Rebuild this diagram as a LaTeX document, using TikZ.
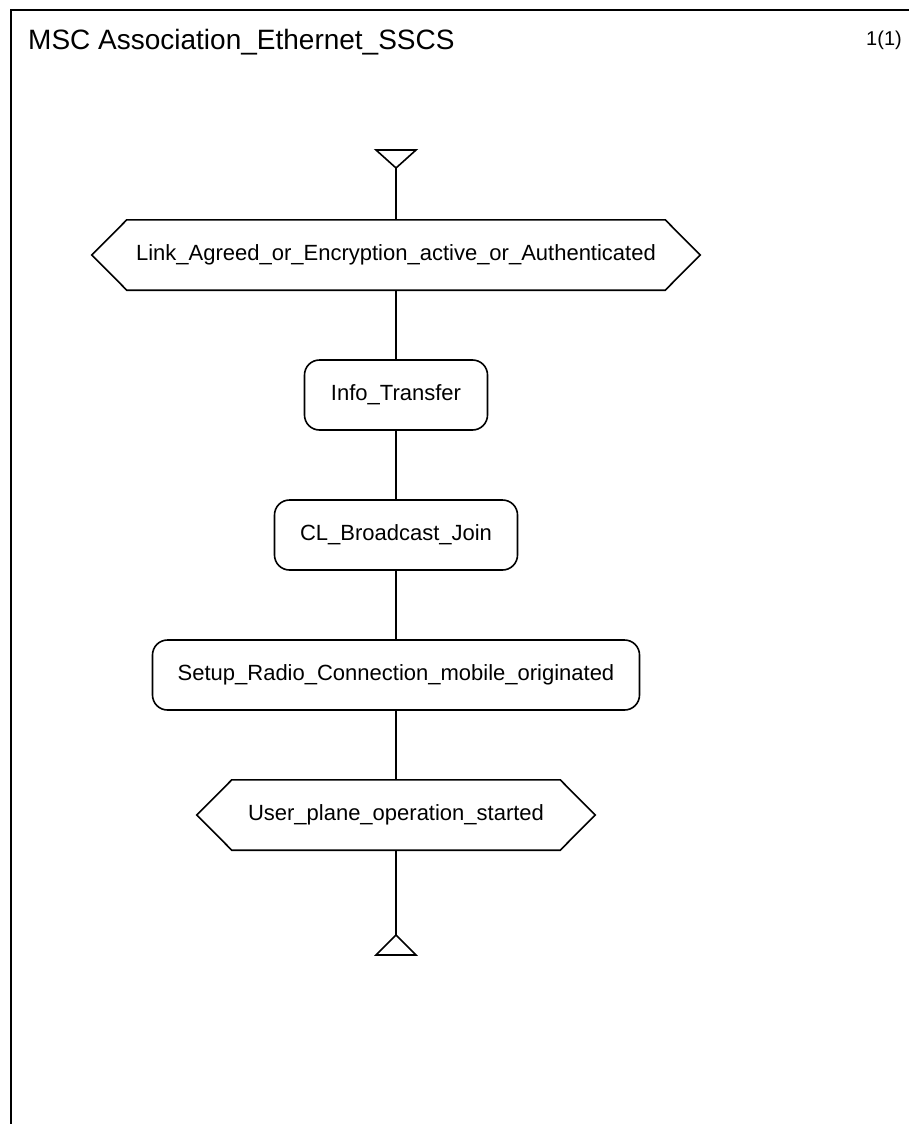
\documentclass[tikz,border=0pt]{standalone}
\usepackage{fontspec}
\setmainfont{Liberation Sans}
\usetikzlibrary{positioning}

% condition symbol: hexagon drawn round a named node
\newcommand{\condhex}[1]{%
  \draw[flow] (#1.north west) -- (#1.north east) -- ([xshift=35]#1.east)
    -- (#1.south east) -- (#1.south west) -- ([xshift=-35]#1.west) -- cycle;}

\tikzset{
  flow/.style={line width=1.6pt, line join=miter},
  refbox/.style={flow, draw, rectangle, rounded corners=15pt, minimum height=70pt,
                 inner sep=0pt, font=\fontsize{22}{26}\selectfont},
  condbox/.style={rectangle, minimum height=70pt, inner sep=0pt,
                  font=\fontsize{22}{26}\selectfont},
}

\begin{document}
\begin{tikzpicture}[x=1pt,y=-1pt]
\useasboundingbox (0,0) rectangle (908,1124);

% === Frame and heading ===
\draw[line width=2.2pt] (11,1130) -- (11,10) -- (915,10);
\node[anchor=base west, inner sep=0pt, font=\fontsize{28}{32}\selectfont] (title) at (28,49) {MSC Association\_Ethernet\_SSCS};
\node[anchor=base east, inner sep=0pt, font=\fontsize{20}{24}\selectfont] (page) at (902,46) {1(1)};

% === Start symbol ===
\coordinate (startpt) at (396,168);
\draw[flow] (376,150) -- (416,150) -- (startpt) -- cycle;

% === Conditions and references ===
\node[condbox, minimum width=538pt] (linkcond) at (396,255) {Link\_Agreed\_or\_Encryption\_active\_or\_Authenticated};
\condhex{linkcond}

\node[refbox, minimum width=183pt] (info) at (396,395) {Info\_Transfer};
\node[refbox, minimum width=243pt] (clbc) at (396,535) {CL\_Broadcast\_Join};
\node[refbox, minimum width=487pt] (setup) at (396,675) {Setup\_Radio\_Connection\_mobile\_originated};

\node[condbox, minimum width=328pt] (upcond) at (396,815) {User\_plane\_operation\_started};
\condhex{upcond}

% === End symbol ===
\coordinate (endpt) at (396,935);
\draw[flow] (endpt) -- (416,955) -- (376,955) -- cycle;

% === Connectors ===
\draw[flow] (startpt) -- (linkcond.north);
\draw[flow] (linkcond.south) -- (info.north);
\draw[flow] (info.south) -- (clbc.north);
\draw[flow] (clbc.south) -- (setup.north);
\draw[flow] (setup.south) -- (upcond.north);
\draw[flow] (upcond.south) -- (endpt);

\end{tikzpicture}
\end{document}
